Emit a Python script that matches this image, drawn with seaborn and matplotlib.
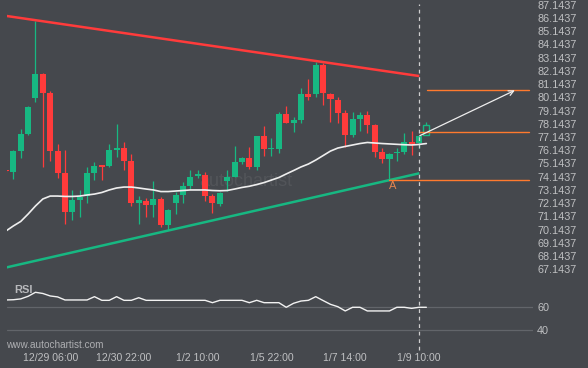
import matplotlib
matplotlib.use("Agg")
import matplotlib.pyplot as plt
import seaborn as sns
import pandas as pd

# 4h candles, the last one is still forming (drawn hollow)
opens = [74.60, 74.52, 76.08, 77.37, 80.10, 81.92, 80.48, 76.10, 74.42, 71.48,
         72.37, 72.67, 74.42, 75.02, 74.95, 76.16, 76.33, 75.35, 72.19, 72.32,
         72.01, 72.45, 70.48, 72.19, 72.75, 73.46, 74.17, 74.26, 72.67, 72.07,
         73.81, 74.14, 75.27, 75.55, 74.89, 77.22, 76.21, 76.26, 78.86, 78.23,
         78.43, 80.40, 80.40, 82.60, 80.40, 79.95, 78.94, 77.29, 78.51, 78.81,
         78.05, 76.03, 75.45, 75.97, 75.98, 76.77, 76.69, 77.29]
highs = [74.68, 76.16, 77.75, 79.49, 85.88, 82.01, 80.60, 76.59, 76.16, 73.13,
         73.13, 74.89, 75.27, 75.05, 76.60, 78.13, 76.79, 75.86, 72.67, 72.50,
         73.81, 72.58, 71.70, 73.00, 73.76, 74.64, 74.64, 74.49, 72.87, 73.00,
         74.64, 76.46, 75.65, 76.38, 77.22, 77.98, 77.05, 79.06, 79.49, 78.64,
         80.83, 81.51, 82.80, 82.77, 80.45, 80.14, 79.19, 79.02, 79.06, 79.11,
         78.10, 76.33, 75.93, 76.30, 77.42, 77.59, 77.30, 78.30]
lows = [74.50, 73.96, 75.53, 77.30, 79.77, 74.89, 75.35, 74.01, 70.55, 70.86,
        71.11, 72.12, 73.89, 73.89, 74.89, 75.63, 74.64, 71.92, 70.55, 71.08,
        71.06, 70.35, 70.15, 71.30, 72.12, 73.18, 74.03, 72.30, 71.41, 71.94,
        73.05, 74.10, 75.09, 74.69, 74.64, 75.71, 75.70, 75.91, 78.20, 77.52,
        78.18, 79.95, 80.15, 79.57, 78.24, 78.23, 76.41, 77.17, 77.62, 77.47,
        75.65, 75.20, 73.89, 75.30, 75.87, 75.81, 76.31, 77.29]
closes = [74.55, 76.08, 77.37, 79.42, 81.92, 80.48, 76.10, 74.42, 71.48, 72.37,
          72.58, 74.42, 74.95, 74.91, 76.16, 76.33, 75.35, 72.17, 72.37, 72.01,
          72.45, 70.48, 71.61, 72.75, 73.46, 74.14, 74.32, 72.67, 72.12, 72.88,
          74.14, 75.25, 75.53, 74.89, 77.22, 76.21, 76.31, 78.91, 78.23, 78.43,
          80.40, 80.20, 82.60, 80.45, 80.05, 78.98, 77.29, 78.51, 78.81, 78.05,
          76.03, 75.45, 75.85, 76.00, 76.76, 76.59, 77.24, 78.04]

# moving average line
ma_values = [70.04, 70.42, 70.76, 71.32, 71.93, 72.46, 72.68, 72.68, 72.65, 72.65,
             72.68, 72.76, 72.83, 72.95, 73.14, 73.29, 73.36, 73.36, 73.29, 73.21,
             73.14, 73.02, 73.02, 73.06, 73.10, 73.14, 73.14, 73.14, 73.10, 73.08,
             73.10, 73.21, 73.33, 73.42, 73.55, 73.70, 73.89, 74.08, 74.35, 74.61,
             74.88, 75.10, 75.40, 75.74, 76.08, 76.31, 76.43, 76.54, 76.65, 76.73,
             76.69, 76.65, 76.62, 76.59, 76.56, 76.54, 76.58, 76.65]

rsi_values = [65.7, 65.9, 66.6, 68.8, 72.2, 71.2, 69.1, 68.3, 65.7, 65.7,
              65.7, 65.7, 68.5, 65.4, 65.4, 68.5, 65.4, 65.4, 67.6, 65.4,
              65.4, 65.4, 65.4, 65.4, 65.4, 65.4, 65.4, 65.4, 63.4, 65.4,
              65.4, 65.4, 65.4, 63.4, 65.4, 63.4, 63.4, 63.4, 59.5, 62.9,
              64.8, 65.4, 68.5, 65.2, 62.0, 60.0, 56.4, 59.5, 59.5, 56.4,
              56.4, 56.4, 56.4, 59.5, 59.5, 58.6, 59.5, 59.5]

time_labels = ["12/29 06:00", "12/30 22:00", "1/2 10:00", "1/5 22:00", "1/7 14:00", "1/9 10:00"]
label_idx = [6, 16, 26, 36, 46, 56]
price_ticks = [67.1437, 68.1437, 69.1437, 70.1437, 71.1437, 72.1437, 73.1437,
               74.1437, 75.1437, 76.1437, 77.1437, 78.1437, 79.1437, 80.1437,
               81.1437, 82.1437, 83.1437, 84.1437, 85.1437, 86.1437, 87.1437]
rsi_ticks = [40, 60]

# pattern: triangle lines, levels and forecast
resist_x, resist_y = [0.1, 56.04], [86.29, 81.75]
support_x, support_y = [0.1, 56.04], [67.29, 74.40]
level_prices = [80.67, 77.50, 73.87]
level_starts = [57.05, 56.04, 51.97]
level_end = 70.96
arrow_from = (56.1, 77.24)
arrow_to = (69.0, 80.67)
point_a = (51.97, 73.45)
now_idx = 56.04

bg = "#45484d"
green = "#17b882"
red = "#ff3b3b"
orange = "#ff7a2e"
txt = "#bfc0c2"

sns.set_theme(style="dark")
plt.rcParams["font.family"] = ["Liberation Sans", "DejaVu Sans"]

df = pd.DataFrame({"idx": range(len(opens)), "open": opens, "high": highs,
                   "low": lows, "close": closes, "ma": ma_values, "rsi": rsi_values})

fig = plt.figure(figsize=(5.88, 3.68), dpi=100)
fig.patch.set_facecolor(bg)
ax = fig.add_axes([7 / 588, 85 / 368, 526 / 588, 283 / 368])
ax_rsi = fig.add_axes([7 / 588, 23 / 368, 526 / 588, 62 / 368], sharex=ax)

for a in (ax, ax_rsi):
    a.set_facecolor(bg)
    for s in a.spines.values():
        s.set_visible(False)
    a.grid(False)

# candles
up = df["close"] >= df["open"]
colors = [green if u else red for u in up]
body_lo = df[["open", "close"]].min(axis=1)
body_h = (df["close"] - df["open"]).abs().clip(lower=0.07)
ax.vlines(df["idx"], df["low"], df["high"], colors=colors, lw=0.9, zorder=2)
last = len(df) - 1
ax.bar(df["idx"][:last], body_h[:last], bottom=body_lo[:last], width=0.82,
       color=colors[:last], linewidth=0, zorder=3)
ax.bar([df["idx"][last]], [body_h[last]], bottom=[body_lo[last]], width=0.8,
       facecolor=bg, edgecolor=green, linewidth=1.0, zorder=3)

# watermark
ax.text(32.5, 73.75, "autochartist", color="white", alpha=0.07, fontsize=13,
        ha="center", va="center", zorder=1)

sns.lineplot(data=df, x="idx", y="ma", ax=ax, color="#eeeeee", lw=1.2, zorder=4)

ax.plot(resist_x, resist_y, color=red, lw=1.8, zorder=4, solid_capstyle="butt")
ax.plot(support_x, support_y, color=green, lw=1.8, zorder=4, solid_capstyle="butt")
for p, s in zip(level_prices, level_starts):
    ax.plot([s, level_end], [p, p], color=orange, lw=1.0, zorder=4)
ax.annotate("", xy=arrow_to, xytext=arrow_from,
            arrowprops=dict(arrowstyle="->", color="#eeeeee", lw=0.9,
                            mutation_scale=9, shrinkA=0, shrinkB=0), zorder=5)
ax.text(point_a[0] + 0.4, point_a[1], "A", color="#e58550", fontsize=8,
        ha="center", va="center")

ax.axvline(now_idx, ymax=0.986, color="#cfcfcf", lw=0.9, ls=(0, (3, 3)), zorder=5)

ax.set_xlim(0.14, 71.46)
ax.set_ylim(66.108, 87.499)
ax.yaxis.tick_right()
ax.set_yticks(price_ticks)
ax.set_yticklabels([f"{t:.4f}" for t in price_ticks])
ax.tick_params(axis="y", length=0, pad=3, labelsize=7.8, labelcolor=txt)
ax.tick_params(axis="x", length=0, labelbottom=False)
ax.set_xlabel("")
ax.set_ylabel("")

# RSI panel
for t in rsi_ticks:
    ax_rsi.axhline(t, color="#62656a", lw=0.9, zorder=1)
sns.lineplot(data=df, x="idx", y="rsi", ax=ax_rsi, color="#f2f2f2", lw=1.0, zorder=3)
ax_rsi.axvline(now_idx, ymin=-0.08, ymax=1, color="#cfcfcf", lw=0.9, ls=(0, (3, 3)),
               zorder=5, clip_on=False)
ax_rsi.set_ylim(27.54, 80.08)
ax_rsi.yaxis.tick_right()
ax_rsi.set_yticks(rsi_ticks)
ax_rsi.set_yticklabels([str(t) for t in rsi_ticks])
ax_rsi.tick_params(axis="y", length=0, pad=3, labelsize=7.8, labelcolor=txt)
ax_rsi.set_xticks(label_idx)
ax_rsi.set_xticklabels(time_labels)
ax_rsi.tick_params(axis="x", length=0, pad=5.5, labelsize=7.6, labelcolor=txt)
ax_rsi.set_xlabel("")
ax_rsi.set_ylabel("")
ax_rsi.text(0.013, 0.88, "RSI", transform=ax_rsi.transAxes, color="#b8b9bc",
            fontsize=8, fontweight="bold", ha="left", va="center", zorder=6)

fig.text(6 / 588, 1 - 345 / 368, "www.autochartist.com", color="#aeafb2",
         fontsize=7.2, ha="left", va="center")

fig.savefig("out.png", dpi=100, facecolor=bg)
